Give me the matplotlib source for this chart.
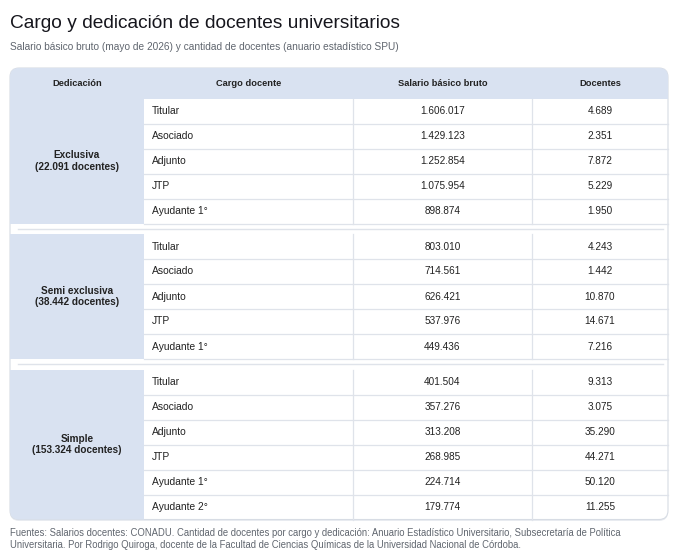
import matplotlib.pyplot as plt
from matplotlib.patches import FancyBboxPatch, Rectangle

plt.rcParams['font.family'] = ['Liberation Sans', 'DejaVu Sans']

# Data
dedicaciones = ['Exclusiva', 'Semi exclusiva', 'Simple']
cargos = [
    ['Titular', 'Asociado', 'Adjunto', 'JTP', 'Ayudante 1°'],
    ['Titular', 'Asociado', 'Adjunto', 'JTP', 'Ayudante 1°'],
    ['Titular', 'Asociado', 'Adjunto', 'JTP', 'Ayudante 1°', 'Ayudante 2°'],
]
salario_exclusiva = [1606017, 1429123, 1252854, 1075954, 898874]
salario_semi = [803010, 714561, 626421, 537976, 449436]
salario_simple = [401504, 357276, 313208, 268985, 224714, 179774]
docentes_exclusiva = [4689, 2351, 7872, 5229, 1950]
docentes_semi = [4243, 1442, 10870, 14671, 7216]
docentes_simple = [9313, 3075, 35290, 44271, 50120, 11255]
salarios = [salario_exclusiva, salario_semi, salario_simple]
docentes = [docentes_exclusiva, docentes_semi, docentes_simple]
encabezados = ['Dedicación', 'Cargo docente', 'Salario básico bruto', 'Docentes']


def fmt(n):
    return f'{n:,}'.replace(',', '.')


# Layout (pixels)
W, H = 680, 555
x0, x1 = 10, 668
cols = [x0, 144, 353, 532, x1]
top, head_h, row_h, gap = 68, 30.5, 25, 10.5
blue = '#d9e2f1'
grid = '#dfe3ea'
txt = '#222222'

fig = plt.figure(figsize=(W / 100, H / 100), dpi=100)
ax = fig.add_axes([0, 0, 1, 1])
ax.set_xlim(0, W)
ax.set_ylim(H, 0)
ax.axis('off')

n_rows = sum(len(c) for c in cargos)
bottom = top + head_h + n_rows * row_h + gap * (len(cargos) - 1)

# shadow + outer box
shadow = FancyBboxPatch((x0, top + 1.5), x1 - x0, bottom - top, boxstyle='round,pad=0,rounding_size=9',
                        fc='#e9ecf1', ec='none', zorder=0)
ax.add_patch(shadow)
outer = FancyBboxPatch((x0, top), x1 - x0, bottom - top, boxstyle='round,pad=0,rounding_size=9',
                       fc='white', ec='#d7dce4', lw=0.8, zorder=1)
ax.add_patch(outer)

# header
hdr = Rectangle((x0, top), x1 - x0, head_h, fc=blue, ec='none', zorder=2)
ax.add_patch(hdr)
hdr.set_clip_path(outer)
for i, h in enumerate(encabezados):
    ax.text((cols[i] + cols[i + 1]) / 2, top + head_h / 2, h, ha='center', va='center',
            fontsize=6.7, fontweight='bold', color=txt, zorder=5)

y = top + head_h
for g, ded in enumerate(dedicaciones):
    n = len(cargos[g])
    gh = n * row_h
    cell = Rectangle((x0, y), cols[1] - x0, gh, fc=blue, ec='none', zorder=2)
    ax.add_patch(cell)
    cell.set_clip_path(outer)
    ax.text((x0 + cols[1]) / 2, y + gh / 2, f'{ded}\n({fmt(sum(docentes[g]))} docentes)',
            ha='center', va='center', fontsize=7.2, fontweight='bold', color=txt,
            linespacing=1.15, zorder=5)
    for r in range(n):
        ry = y + r * row_h
        cy = ry + row_h / 2
        ax.text(cols[1] + 8, cy, cargos[g][r], ha='left', va='center', fontsize=7.4, color=txt, zorder=5)
        ax.text((cols[2] + cols[3]) / 2, cy, fmt(salarios[g][r]), ha='center', va='center',
                fontsize=7.2, color=txt, zorder=5)
        ax.text((cols[3] + cols[4]) / 2, cy, fmt(docentes[g][r]), ha='center', va='center',
                fontsize=7.2, color=txt, zorder=5)
        if r < n - 1 or g < len(dedicaciones) - 1:
            ax.plot([cols[1], x1], [ry + row_h, ry + row_h], color=grid, lw=0.9, zorder=3)
    for cx in cols[2:4]:
        ax.plot([cx, cx], [y, y + gh], color=grid, lw=0.9, zorder=3)
    y += gh
    if g < len(dedicaciones) - 1:
        ax.plot([x0 + 8, x1 - 5], [y + gap / 2, y + gap / 2], color=grid, lw=1.0, zorder=3)
        y += gap

# titles
ax.text(10, 23, 'Cargo y dedicación de docentes universitarios', ha='left', va='center',
        fontsize=13.8, color='#16161d')
ax.text(10, 47, 'Salario básico bruto (mayo de 2026) y cantidad de docentes (anuario estadístico SPU)',
        ha='left', va='center', fontsize=7.25, color='#60666f')
ax.text(10, 539, 'Fuentes: Salarios docentes: CONADU. Cantidad de docentes por cargo y dedicación: Anuario Estadístico '
        'Universitario, Subsecretaría de Política\nUniversitaria. Por Rodrigo Quiroga, docente de la Facultad de '
        'Ciencias Químicas de la Universidad Nacional de Córdoba.',
        ha='left', va='center', fontsize=6.85, color='#60666f', linespacing=1.25)

fig.savefig('out.png', dpi=100)
